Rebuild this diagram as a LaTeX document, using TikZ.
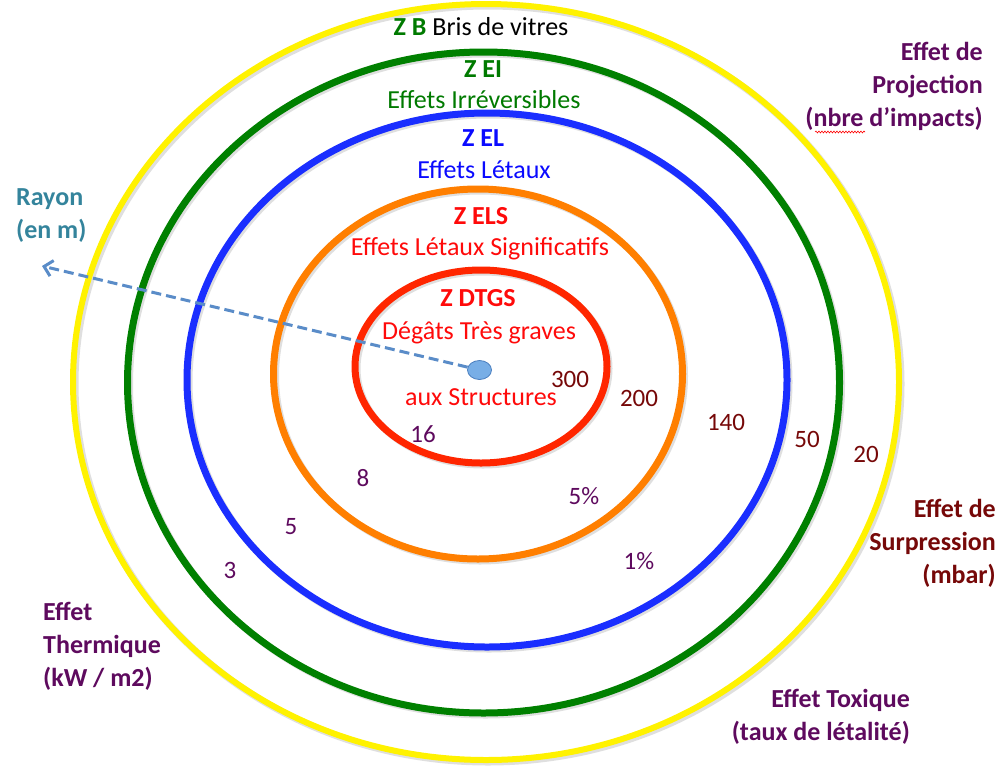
\documentclass[tikz,border=0pt]{standalone}
\usepackage{fontspec}
\setmainfont{Carlito}
\usetikzlibrary{arrows.meta,shapes.geometric,decorations.pathmorphing}
\definecolor{ringyellow}{HTML}{FFF200}
\definecolor{ringgreen}{HTML}{008000}
\definecolor{ringblue}{HTML}{1A2EFF}
\definecolor{ringorange}{HTML}{FF7F00}
\definecolor{ringred}{HTML}{FF2600}
\definecolor{txtgreen}{HTML}{007A00}
\definecolor{txtblue}{HTML}{0A0AFF}
\definecolor{txtred}{HTML}{FF0A0A}
\definecolor{purp}{HTML}{5E0A5E}
\definecolor{maroon}{HTML}{760808}
\definecolor{rayon}{HTML}{34849C}
\definecolor{arrowblue}{HTML}{5A8CC8}
\definecolor{dotfill}{HTML}{78AEE6}
\definecolor{dotedge}{HTML}{4A7EBE}
\tikzset{
  ring/.style={line width=7pt},
  ringshadow/.style={line width=7pt, draw=black!25, opacity=0.5},
  lbl/.style={inner sep=0pt, anchor=base, font=\fontsize{26}{33}\selectfont},
  num/.style={inner sep=0pt, anchor=base, font=\fontsize{25}{30}\selectfont},
  side/.style={inner sep=0pt, font=\fontsize{26}{33}\selectfont\bfseries},
}
\begin{document}
\begin{tikzpicture}[x=1pt,y=-1pt]
\useasboundingbox (0,0) rectangle (1000,766);
% shadows
\draw[ringshadow] (488,384) ellipse [x radius=413, y radius=378];
\draw[ringshadow] (485.5,384.5) ellipse [x radius=356, y radius=330.5];
\draw[ringshadow] (489,382) ellipse [x radius=300, y radius=267];
\draw[ringshadow] (480,376) ellipse [x radius=204.5, y radius=185];
\draw[ringshadow] (483,368.5) ellipse [x radius=126, y radius=96.5];
% rings
\draw[ring, line width=6pt, draw=ringyellow] (486,382) ellipse [x radius=413, y radius=378];
\draw[ring, draw=ringgreen] (483.5,382.5) ellipse [x radius=356, y radius=330.5];
\draw[ring, draw=ringblue] (487,380) ellipse [x radius=300, y radius=267];
\draw[ring, draw=ringorange] (478,374) ellipse [x radius=204.5, y radius=185];
\draw[ring, draw=ringred] (481,366.5) ellipse [x radius=126, y radius=96.5];

% centre dot and radius arrow
\node[ellipse, draw=dotedge, fill=dotfill, line width=0.8pt, minimum width=24pt, minimum height=19pt, inner sep=0pt] (dot) at (479.5,370) {};
\coordinate (raytip) at (42,266);
\draw[arrowblue, line width=3pt, dash pattern=on 10pt off 5pt, -{Straight Barb[length=8pt,width=16pt,line width=3pt]}] (dot) -- (raytip);

% zone labels
\node[lbl] (zb) at (481,35) {\textcolor{txtgreen}{\bfseries Z B} Bris de vitres};
\node[lbl, txtgreen] (zei) at (483,77) {\bfseries Z EI};
\node[lbl, txtgreen] (ei) at (484,108) {Effets Irréversibles};
\node[lbl, txtblue] (zel) at (483,146) {\bfseries Z EL};
\node[lbl, txtblue] (el) at (484,178) {Effets Létaux};
\node[lbl, txtred] (zels) at (481,224) {\bfseries Z ELS};
\node[lbl, txtred] (els) at (480,255) {Effets Létaux Significatifs};
\node[lbl, txtred] (zdtgs) at (478,306) {\bfseries Z DTGS};
\node[lbl, txtred] (dtg1) at (479,339) {Dégâts Très graves};
\node[lbl, txtred] (dtg2) at (481,405) {aux Structures};

% values
\node[num, maroon] (p300) at (570,387) {300};
\node[num, maroon] (p200) at (639,406) {200};
\node[num, maroon] (p140) at (726,430) {140};
\node[num, maroon] (p50) at (807,447) {50};
\node[num, maroon] (p20) at (866,462) {20};
\node[num, purp] (t5p) at (584,504) {5\%};
\node[num, purp] (t1p) at (639,569) {1\%};
\node[num, purp] (th16) at (423,442) {16};
\node[num, purp] (th8) at (363,486) {8};
\node[num, purp] (th5) at (291,534) {5};
\node[num, purp] (th3) at (230,578) {3};

% side legends
\node[side, rayon, anchor=north west, align=left] (rayonlbl) at (16,188) {Rayon\\(en m)};
\node[side, purp, anchor=north east, align=right] (proj) at (983,42) {Effet de\\Projection\\(nbre d’impacts)};
\node[side, maroon, anchor=north east, align=right] (surp) at (996,499) {Effet de\\Surpression\\(mbar)};
\node[side, purp, anchor=north east, align=right] (tox) at (910,689) {Effet Toxique\\(taux de létalité)};
\node[side, purp, anchor=north west, align=left] (therm) at (43,602) {Effet\\Thermique\\(kW / m2)};
\draw[red, line width=0.6pt, decorate, decoration={snake, amplitude=0.9pt, segment length=3pt}] (815,132) -- (865,132);
\end{tikzpicture}
\end{document}
